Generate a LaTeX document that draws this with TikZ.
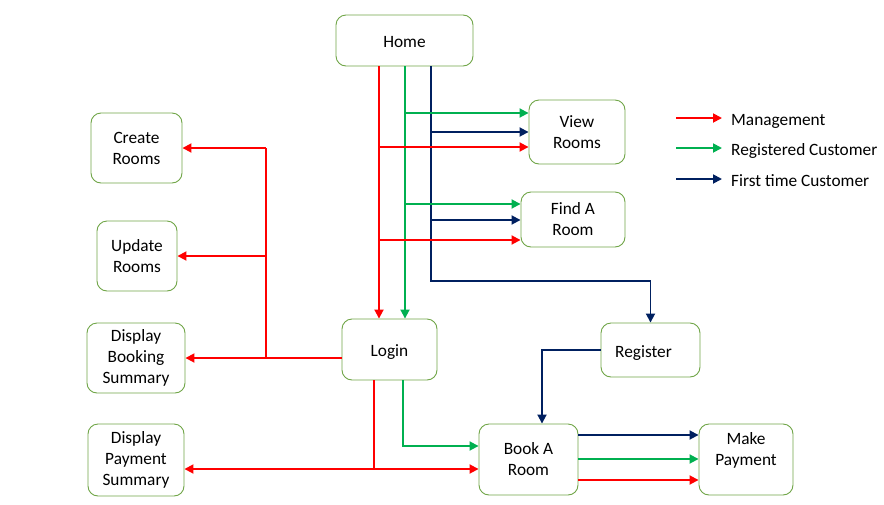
\documentclass[tikz,border=0pt]{standalone}
\usepackage{fontspec}
\setmainfont{Carlito}
\usetikzlibrary{arrows.meta}
\definecolor{mred}{RGB}{255,0,0}
\definecolor{mgreen}{RGB}{0,176,80}
\definecolor{mnavy}{RGB}{0,32,96}
\definecolor{boxline}{RGB}{112,165,71}
\tikzset{
  box/.style={draw=boxline, line width=0.9pt, rounded corners=10pt, fill=white, align=center, inner sep=0pt, font=\fontsize{17.3}{21}\selectfont},
  oneline/.style={text height=14pt, text depth=0pt},
  conn/.style={line width=1.8pt},
  arr/.style={conn, -{Triangle[length=9pt,width=9pt]}},
  legtext/.style={anchor=west, inner sep=0pt, text height=14pt, text depth=0pt, font=\fontsize{17.3}{21}\selectfont}
}
\begin{document}
\begin{tikzpicture}[x=1pt,y=-1pt]
\useasboundingbox (0,0) rectangle (884,504);
% nodes
\node[box, oneline, minimum width=137pt, minimum height=51pt] (Home) at (404.5,40.5) {Home};
\node[box, minimum width=96pt, minimum height=64pt] (View) at (577,132) {View\\Rooms};
\node[box, minimum width=104pt, minimum height=55pt] (Find) at (573,219.5) {Find A\\Room};
\node[box, minimum width=91pt, minimum height=70pt] (Create) at (136.5,148) {Create\\Rooms};
\node[box, minimum width=80pt, minimum height=70pt] (Update) at (137,256) {Update\\Rooms};
\node[box, minimum width=98pt, minimum height=70pt] (Booking) at (136,358) {Display\\Booking\\Summary};
\node[box, minimum width=96pt, minimum height=72pt] (Payment) at (136,460) {Display\\Payment\\Summary};
\node[box, oneline, minimum width=95pt, minimum height=61pt] (Login) at (389.5,349.5) {Login};
\node[box, oneline, minimum width=99pt, minimum height=54pt] (Register) at (650.5,350) {Register\hspace{14pt}};
\node[box, minimum width=99pt, minimum height=71pt] (Book) at (528.5,459.5) {Book A\\Room};
\node[box, minimum width=94pt, minimum height=71pt] (Make) at (746,459.5) {Make\\Payment\\[-6pt]\strut};
% lane coordinates
\coordinate (xr) at (379,0);
\coordinate (xg) at (405,0);
\coordinate (xn) at (431,0);
\coordinate (xt) at (266,0);
\coordinate (xlr) at (374,0);
\coordinate (xlg) at (403,0);
\coordinate (xreg) at (542,0);
\coordinate (yVg) at (0,113);
\coordinate (yVn) at (0,132);
\coordinate (yVr) at (0,147);
\coordinate (yFg) at (0,204);
\coordinate (yFn) at (0,220);
\coordinate (yFr) at (0,240);
\coordinate (yNav) at (0,281);
\coordinate (yLp) at (0,469);
\coordinate (yLg) at (0,446);
\coordinate (yMn) at (0,435);
\coordinate (yMg) at (0,459);
\coordinate (yMr) at (0,480);
% Home to Login
\draw[arr, mred] (xr |- Home.south) -- (xr |- Login.north);
\draw[arr, mgreen] (xg |- Home.south) -- (xg |- Login.north);
% navy to Register
\draw[arr, mnavy] (xn |- Home.south) -- (xn |- yNav) -- (Register.north |- yNav) -- (Register.north);
% branches to View Rooms
\draw[arr, mgreen] (xg |- yVg) -- (View.west |- yVg);
\draw[arr, mnavy] (xn |- yVn) -- (View.west |- yVn);
\draw[arr, mred] (xr |- yVr) -- (View.west |- yVr);
% branches to Find A Room
\draw[arr, mgreen] (xg |- yFg) -- (Find.west |- yFg);
\draw[arr, mnavy] (xn |- yFn) -- (Find.west |- yFn);
\draw[arr, mred] (xr |- yFr) -- (Find.west |- yFr);
% Login to management pages
\draw[arr, mred] (Login.west |- Booking.east) -- (Booking.east);
\draw[conn, mred] (xt |- Booking.east) -- (xt |- Create.east);
\draw[arr, mred] (xt |- Create.east) -- (Create.east);
\draw[arr, mred] (xt |- Update.east) -- (Update.east);
% Login bottom
\draw[conn, mred] (xlr |- Login.south) -- (xlr |- yLp);
\draw[arr, mred] (xlr |- yLp) -- (Payment.east |- yLp);
\draw[arr, mred] (xlr |- yLp) -- (Book.west |- yLp);
\draw[arr, mgreen] (xlg |- Login.south) -- (xlg |- yLg) -- (Book.west |- yLg);
% Register to Book
\draw[arr, mnavy] (Register.west) -- (xreg |- Register.west) -- (xreg |- Book.north);
% Book to Make
\draw[arr, mnavy] (Book.east |- yMn) -- (Make.west |- yMn);
\draw[arr, mgreen] (Book.east |- yMg) -- (Make.west |- yMg);
\draw[arr, mred] (Book.east |- yMr) -- (Make.west |- yMr);
% legend
\coordinate (l1s) at (676,118); \coordinate (l1e) at (722,118);
\coordinate (l2s) at (676,148); \coordinate (l2e) at (722,148);
\coordinate (l3s) at (676,179); \coordinate (l3e) at (722,179);
\draw[arr, mred] (l1s) -- (l1e);
\draw[arr, mgreen] (l2s) -- (l2e);
\draw[arr, mnavy] (l3s) -- (l3e);
\node[legtext] (t1) at (731,118) {Management};
\node[legtext] (t2) at (731,148) {Registered Customer};
\node[legtext] (t3) at (731,179) {First time Customer};
\end{tikzpicture}
\end{document}
